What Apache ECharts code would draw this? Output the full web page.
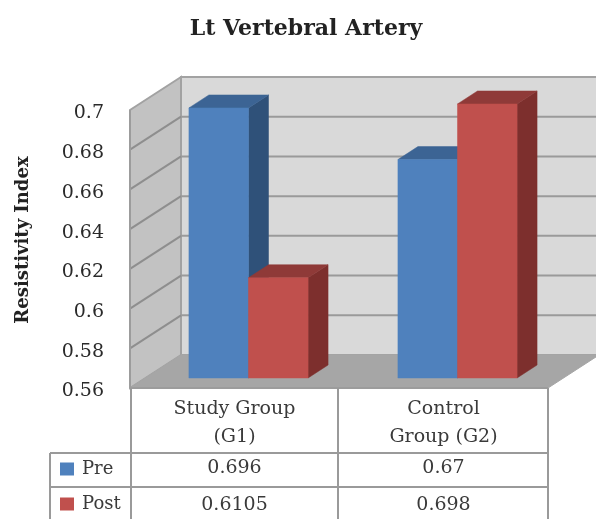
<!DOCTYPE html>
<html>
<head>
<meta charset="utf-8">
<style>html,body{margin:0;padding:0;background:#fff}#c{width:596px;height:519px}</style>
<script src="https://cdn.jsdelivr.net/npm/echarts@6/dist/echarts.min.js"></script>
</head>
<body>
<div id="c"></div>
<script>
const categories = ['Study Group\n(G1)', 'Control\nGroup (G2)'];
const pre = [0.696, 0.67];
const post = [0.6105, 0.698];
const yTicks = [0.56, 0.58, 0.6, 0.62, 0.64, 0.66, 0.68, 0.7];
const FONT = '"DejaVu Serif", serif';
const WALL_DX = 51, WALL_DY = -33;
const BAR_DX = 14, BAR_DY = -10, SIDE_DX = 20, SIDE_DY = -13;
const BAR_FRAC = 0.285;
const YMIN = 0.56, YMAX = 0.7;

function poly(points, fill, stroke, lw) {
  return { type: 'polygon', shape: { points }, style: { fill, stroke: stroke || fill, lineWidth: lw === undefined ? 0.5 : lw } };
}
function line(x1, y1, x2, y2, color, lw) {
  return { type: 'line', shape: { x1, y1, x2, y2 }, style: { stroke: color, lineWidth: lw } };
}

function renderWalls(params, api) {
  if (params.dataIndex !== 0) return null;
  const cs = params.coordSys;
  const L = cs.x, R = cs.x + cs.width, B = api.coord([0, YMIN])[1], T = api.coord([0, YMAX])[1];
  const dx = WALL_DX, dy = WALL_DY;
  const edge = '#a2a2a2';
  const kids = [
    poly([[L + dx, T + dy], [R + dx, T + dy], [R + dx, B + dy], [L + dx, B + dy]], '#d9d9d9', edge, 2),
    poly([[L, T], [L + dx, T + dy], [L + dx, B + dy], [L, B]], '#c2c2c2', edge, 2),
    poly([[L, B], [L + dx, B + dy], [R + dx, B + dy], [R, B]], '#a6a6a6', '#a6a6a6', 1)
  ];
  yTicks.forEach(function (v) {
    if (v === YMIN || v === YMAX) return;
    const y = api.coord([0, v])[1];
    kids.push(line(L, y, L + dx, y + dy, '#8e8e8e', 2));
    kids.push(line(L + dx, y + dy, R + dx, y + dy, '#9a9a9a', 2));
  });
  kids.push(line(L, B, R, B, '#9c9c9c', 2));
  kids.push(line(L, T, L, B, '#9c9c9c', 2));
  return { type: 'group', children: kids };
}

function barRenderer(seriesPos, front, side, top) {
  return function (params, api) {
    const cat = api.value(0), val = api.value(1);
    const band = api.size([1, 0])[0];
    const w = band * BAR_FRAC;
    const xc = api.coord([cat, YMIN])[0];
    const x0 = xc + BAR_DX + (seriesPos - 1) * w;
    const x1 = x0 + w;
    const yB = api.coord([cat, YMIN])[1] + BAR_DY;
    const yT = api.coord([cat, val])[1] + BAR_DY;
    const sx = SIDE_DX, sy = SIDE_DY;
    return {
      type: 'group',
      children: [
        poly([[x1, yT], [x1 + sx, yT + sy], [x1 + sx, yB + sy], [x1, yB]], side),
        poly([[x0, yT], [x0 + sx, yT + sy], [x1 + sx, yT + sy], [x1, yT]], top),
        poly([[x0, yT], [x1, yT], [x1, yB], [x0, yB]], front)
      ]
    };
  };
}

function renderTable(params, api) {
  if (params.dataIndex !== 0) return null;
  const cs = params.coordSys;
  const L = cs.x, R = cs.x + cs.width, B = api.coord([0, YMIN])[1];
  const mid = (L + R) / 2 - 1;
  const c = '#9a9a9a', lw = 2;
  const kids = [
    line(L + 1, B, L + 1, 519, c, lw), line(mid, B, mid, 519, c, lw), line(R, B, R, 519, c, lw),
    line(50, 453, R, 453, c, lw), line(50, 487, R, 487, c, lw), line(50, 453, 50, 519, c, lw)
  ];
  [pre, post].forEach(function (arr, r) {
    arr.forEach(function (v, i) {
      kids.push({
        type: 'text',
        style: {
          text: String(v), x: api.coord([i, YMIN])[0], y: r === 0 ? 468 : 505,
          align: 'center', verticalAlign: 'middle', font: '19px ' + FONT, fill: '#3a3a3a'
        }
      });
    });
  });
  return { type: 'group', children: kids };
}

const chart = echarts.init(document.getElementById('c'), null, { renderer: 'canvas' });
chart.setOption({
  animation: false,
  backgroundColor: '#fff',
  title: {
    text: 'Lt Vertebral Artery', left: 301, top: 13, textAlign: 'center',
    textStyle: { fontFamily: FONT, fontSize: 22, fontWeight: 'bold', color: '#222' }
  },
  grid: { left: 130, right: 48, top: 110, bottom: 131 },
  legend: {
    data: ['Pre', 'Post'], orient: 'vertical', left: 60, top: 459, padding: 0, itemWidth: 14, itemHeight: 13, itemGap: 15,
    icon: 'rect', textStyle: { fontFamily: FONT, fontSize: 18, lineHeight: 20, color: '#3a3a3a', padding: [0, 0, 0, 3] }
  },
  xAxis: {
    type: 'category', data: categories,
    axisLine: { show: false }, axisTick: { show: false },
    axisLabel: { interval: 0, margin: 7, fontFamily: FONT, fontSize: 19, lineHeight: 28, color: '#3a3a3a' }
  },
  yAxis: {
    type: 'value', min: YMIN, max: YMAX, interval: 0.02,
    name: 'Resistivity Index', nameLocation: 'middle', nameGap: 98, nameRotate: 90,
    nameTextStyle: { fontFamily: FONT, fontSize: 18, fontWeight: 'bold', color: '#222', padding: [0, 0, 0, 18] },
    axisLine: { show: false }, axisTick: { show: false }, splitLine: { show: false },
    axisLabel: {
      margin: 26, formatter: '{t|{value}}',
      rich: { t: { fontFamily: FONT, fontSize: 19, color: '#2a2a2a', padding: [7, 0, 0, 0] } }
    }
  },
  series: [
    { type: 'custom', name: 'walls', silent: true, renderItem: renderWalls, clip: false, data: [[0, YMIN]], encode: { x: 0, y: 1 } },
    { type: 'custom', name: 'Pre', renderItem: barRenderer(0, '#4f81bd', '#2f5179', '#3c6494'), itemStyle: { color: '#4f81bd' }, clip: false,
      data: pre.map(function (v, i) { return [i, v]; }), encode: { x: 0, y: 1 } },
    { type: 'custom', name: 'Post', renderItem: barRenderer(1, '#c0504d', '#7d2f2d', '#8f3a38'), itemStyle: { color: '#c0504d' }, clip: false,
      data: post.map(function (v, i) { return [i, v]; }), encode: { x: 0, y: 1 } },
    { type: 'custom', name: 'table', silent: true, renderItem: renderTable, clip: false, data: [[0, YMIN]], encode: { x: 0, y: 1 } }
  ]
});
</script>
</body>
</html>
